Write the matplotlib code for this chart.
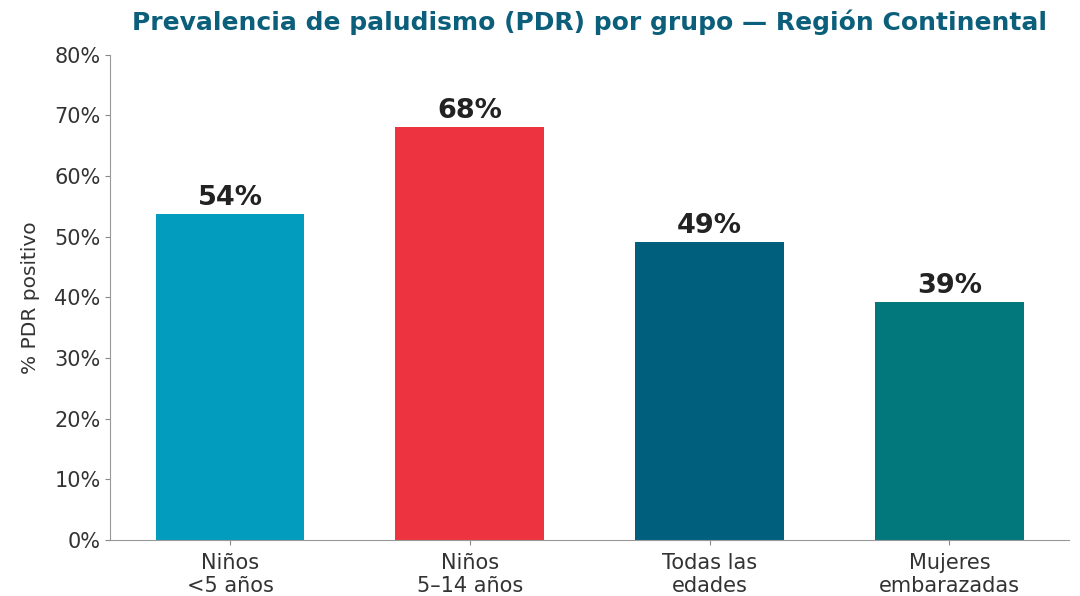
import matplotlib
matplotlib.use("Agg")
import matplotlib.pyplot as plt
from matplotlib.ticker import PercentFormatter

# datos
grupos = ["Niños\n<5 años", "Niños\n5–14 años", "Todas las\nedades", "Mujeres\nembarazadas"]
pdr = [53.8, 68.1, 49.1, 39.3]
colores = ["#029CBF", "#EE3340", "#015F7E", "#02787C"]

fig = plt.figure(figsize=(10.8, 5.96), dpi=100)
ax = fig.add_axes([0.102, 0.094, 0.888, 0.814])

x = range(len(grupos))
barras = ax.bar(x, pdr, width=0.62, color=colores)

for b, v in zip(barras, pdr):
    ax.text(b.get_x() + b.get_width() / 2, v + 0.5, f"{v:.0f}%",
            ha="center", va="bottom", fontsize=19.5, fontweight="bold", color="#222222")

ax.set_xlim(-0.5, 3.5)
ax.set_ylim(0, 80)
ax.set_yticks(range(0, 81, 10))
ax.yaxis.set_major_formatter(PercentFormatter(decimals=0))
ax.set_xticks(list(x))
ax.set_xticklabels(grupos, linespacing=1.15)
ax.tick_params(labelsize=15, colors="#333333")
ax.tick_params(color="#888888")
ax.tick_params(axis="x", pad=6)
ax.set_ylabel("% PDR positivo", fontsize=14.5, color="#333333", labelpad=10)

for s in ["top", "right"]:
    ax.spines[s].set_visible(False)
for s in ["left", "bottom"]:
    ax.spines[s].set_color("#999999")

fig.text(0.546, 0.962, "Prevalencia de paludismo (PDR) por grupo — Región Continental",
         ha="center", va="center", fontsize=18, fontweight="bold", color="#0B5F7A")

fig.savefig("out.png", dpi=100)
